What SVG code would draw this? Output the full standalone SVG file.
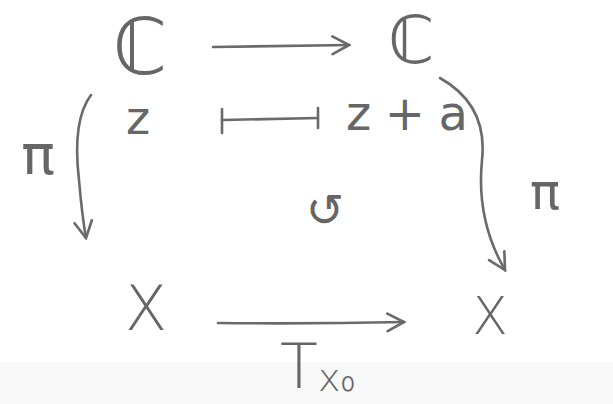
<svg xmlns="http://www.w3.org/2000/svg" width="613" height="404" viewBox="0 0 613 404">
<style>
.t{font-family:"DejaVu Sans","Liberation Sans",sans-serif;fill:#666;}
.c{fill:none;stroke:#6a6a6a;stroke-width:2.6;stroke-linecap:round;stroke-linejoin:round;}
</style>
<defs>
<marker id="ah2" viewBox="0 0 20 20" refX="18" refY="10" markerWidth="22" markerHeight="22" markerUnits="userSpaceOnUse" orient="auto">
<path d="M3,2 L18,10 L3,18" fill="none" stroke="#6a6a6a" stroke-width="2.4" stroke-linecap="round"/>
</marker>
</defs>
<rect width="613" height="404" fill="#ffffff"/>
<rect x="0" y="362" width="613" height="42" fill="#f8f8f8"/>
<g id="nodeC1"><text class="t" x="140" y="74" font-size="78" text-anchor="middle">ℂ</text></g>
<g id="nodeC2"><text class="t" x="411" y="63" font-size="66" text-anchor="middle">ℂ</text></g>
<g id="nodez"><text class="t" x="138" y="134" font-size="46" text-anchor="middle">z</text></g>
<g id="nodeza"><text class="t" x="346" y="130" font-size="48" textLength="122" lengthAdjust="spacing">z+a</text></g>
<g id="nodeX1"><text class="t" x="146" y="330" font-size="62" text-anchor="middle" font-weight="300">X</text></g>
<g id="nodeX2"><text class="t" x="490" y="334" font-size="52" text-anchor="middle" font-weight="300">X</text></g>
<g id="comm"><text class="t" x="325" y="226" font-size="46" text-anchor="middle">↺</text></g>
<g id="labels">
<text class="t" x="38" y="174" font-size="56" text-anchor="middle">π</text>
<text class="t" x="545" y="209" font-size="50" text-anchor="middle">π</text>
<text class="t" x="280" y="388" font-size="62" font-weight="300">T<tspan font-size="38" dy="3">x₀</tspan></text>
</g>
<g id="connectors">
<path class="c" d="M213,47 Q280,46 349,45" marker-end="url(#ah2)"/>
<path class="c" d="M222,120 L318,118"/>
<path class="c" d="M222,109 L222,133"/>
<path class="c" d="M318,108 L318,128"/>
<path class="c" d="M91,95 Q72,120 79,180 Q82,215 86,238" marker-end="url(#ah2)"/>
<path class="c" d="M440,78 Q488,105 482,160 Q476,220 505,270" marker-end="url(#ah2)"/>
<path class="c" d="M218,323 Q310,324 404,322" marker-end="url(#ah2)"/>
</g>
</svg>
